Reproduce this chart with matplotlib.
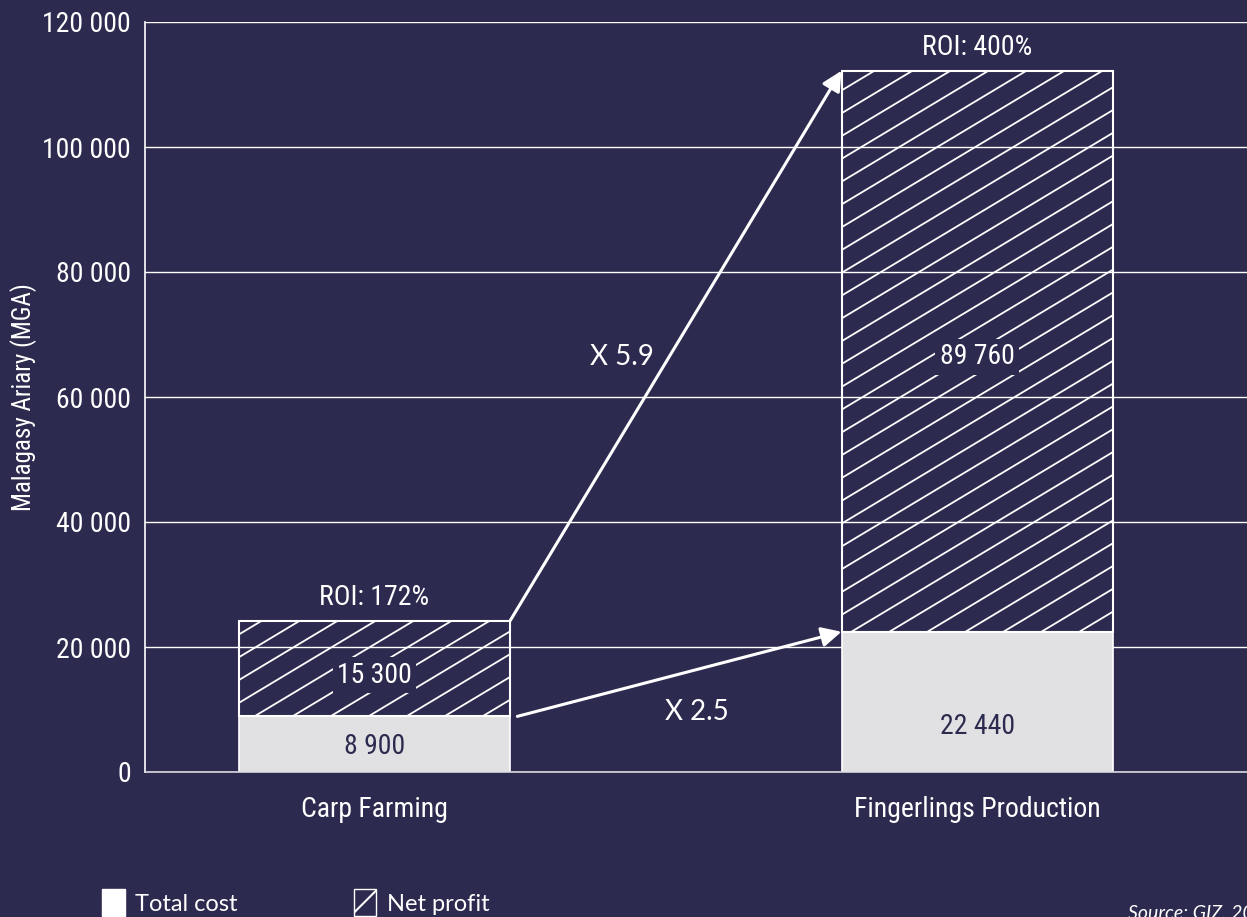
import numpy as np
import matplotlib.pyplot as plt
from matplotlib import font_manager
from matplotlib.patches import Patch
from matplotlib.lines import Line2D
from matplotlib.transforms import IdentityTransform

# Dados
categorias = ['Carp Farming', 'Fingerlings Production']
custo_total = [8900, 22440]
lucro_liquido = [15300, 89760]
roi = ['ROI: 172%', 'ROI: 400%']
rotulos_custo = ['8 900', '22 440']
rotulos_lucro = ['15 300', '89 760']
pos_rotulo_custo = [4000, 7200]
pos_rotulo_lucro = [15500, 66400]
yticks = [0, 20000, 40000, 60000, 80000, 100000, 120000]
ytick_labels = ['0', '20 000', '40 000', '60 000', '80 000', '100 000', '120 000']

# Cores e fontes
fundo = '#2c2a4e'
cinza = '#e1e1e4'
branco = '#ffffff'
normal = ['Lato', 'DejaVu Sans']

# Procurar uma fonte condensada instalada
nomes = {f.name for f in font_manager.fontManager.ttflist}
estreita = ['Roboto', 'DejaVu Sans']
for nome in ['Roboto Condensed', 'Liberation Sans Narrow', 'Open Sans Condensed']:
    if nome in nomes:
        estreita = [nome, 'DejaVu Sans']
        break

fig = plt.figure(figsize=(12.47, 9.17), dpi=100, facecolor=fundo)
ax = fig.add_axes([145 / 1247, 1 - 772 / 917, 1 - 145 / 1247, (772 - 22) / 917])
ax.set_facecolor(fundo)

x = np.arange(len(categorias))
largura = 0.45

ax.bar(x, custo_total, width=largura, color=cinza, edgecolor=branco, linewidth=1.2, zorder=2)
barras_lucro = ax.bar(x, lucro_liquido, bottom=custo_total, width=largura, color='none',
                      edgecolor=branco, linewidth=1.5, zorder=2)

ax.set_xlim(-0.381, 1.448)
ax.set_ylim(0, 120000)

# Hachura manual (linhas diagonais recortadas pela barra)
for barra in barras_lucro:
    for c in range(-1600, 1300, 38):
        linha = Line2D([c, c + 1600], [0, 960], transform=IdentityTransform(),
                       color=branco, linewidth=1.3, zorder=3)
        ax.add_artist(linha)
        linha.set_clip_path(barra)

# Rótulos
for i in range(len(categorias)):
    ax.text(x[i], pos_rotulo_custo[i], rotulos_custo[i], ha='center', va='center',
            color=fundo, fontsize=20, zorder=4, family=estreita)
    ax.text(x[i], pos_rotulo_lucro[i], rotulos_lucro[i], ha='center', va='center',
            color=branco, fontsize=20, zorder=4, family=estreita,
            bbox=dict(facecolor=fundo, edgecolor='none', pad=3))
    ax.text(x[i], custo_total[i] + lucro_liquido[i] + 1500, roi[i], ha='center', va='bottom',
            color=branco, fontsize=20, family=estreita)

# Setas
meio = largura / 2
ax.annotate('', xy=(x[1] - meio, custo_total[1]), xytext=(x[0] + meio + 0.012, custo_total[0]),
            arrowprops=dict(arrowstyle='-|>', color=branco, lw=2.2, mutation_scale=30,
                            shrinkA=0, shrinkB=0), zorder=5)
ax.annotate('', xy=(x[1] - meio, custo_total[1] + lucro_liquido[1]),
            xytext=(x[0] + meio, custo_total[0] + lucro_liquido[0]),
            arrowprops=dict(arrowstyle='-|>', color=branco, lw=2.2, mutation_scale=30,
                            shrinkA=0, shrinkB=0), zorder=5)
ax.text(0.41, 66400, 'X 5.9', ha='center', va='center', color=branco, fontsize=20, family=normal)
ax.text(0.535, 9600, 'X 2.5', ha='center', va='center', color=branco, fontsize=20, family=normal)

# Eixos
ax.set_yticks(yticks)
ax.set_yticklabels(ytick_labels)
ax.set_xticks(x)
ax.set_xticklabels(categorias)
ax.tick_params(axis='both', length=0, colors=branco, labelsize=20)
ax.tick_params(axis='y', pad=10)
ax.tick_params(axis='x', pad=17)
for lbl in ax.get_xticklabels() + ax.get_yticklabels():
    lbl.set_family(estreita)
ax.grid(axis='y', color=branco, linewidth=1, zorder=0)
ax.set_axisbelow(True)
for lado in ['top', 'right']:
    ax.spines[lado].set_visible(False)
ax.spines['left'].set_color(branco)
ax.spines['left'].set_linewidth(1.2)
ax.spines['bottom'].set_color('#d8d8de')
ax.spines['bottom'].set_linewidth(1.2)
ax.set_ylabel('Malagasy Ariary (MGA)', color=branco, fontsize=18, family=estreita)
ax.yaxis.set_label_coords(-0.098, 0.5)

# Legenda
plt.rcParams['hatch.color'] = branco
plt.rcParams['hatch.linewidth'] = 1.5
alcas = [Patch(facecolor=branco, edgecolor=branco, label='Total cost'),
         Patch(facecolor='none', edgecolor=branco, hatch='/', label='Net profit')]
leg = fig.legend(handles=alcas, loc='upper left', bbox_to_anchor=(0.082, 0.03), ncol=2,
                 frameon=False, fontsize=17, handlelength=0.95, handleheight=1.35,
                 handletextpad=0.45, columnspacing=4.9, borderaxespad=0, borderpad=0)
for t in leg.get_texts():
    t.set_color(branco)
    t.set_family(normal)

fig.text(1128 / 1247, 1 - 904 / 917, 'Source: GIZ, 2020', color=branco, fontsize=14,
         style='italic', family=normal, ha='left', va='top')

plt.savefig('out.png', dpi=100, facecolor=fundo)
